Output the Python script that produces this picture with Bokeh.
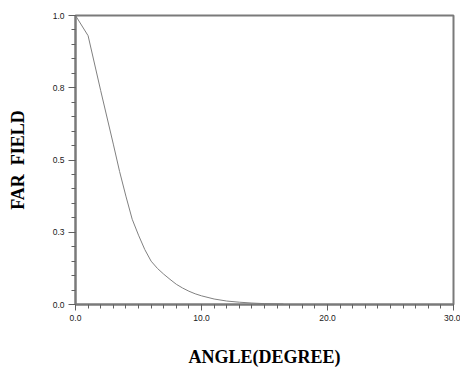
from bokeh.plotting import figure
from bokeh.models import Range1d, FixedTicker
from bokeh.embed import file_html
from bokeh.resources import INLINE

# data
angle = [0, 1, 2, 3, 3.5, 4, 4.5, 5, 5.5, 6, 6.5, 7, 7.5, 8, 8.5, 9, 9.5, 10,
         11, 12, 13, 14, 15, 16, 16.5]
far_field = [1.0, 0.93, 0.74, 0.555, 0.46, 0.375, 0.295, 0.24, 0.19, 0.15, 0.125,
             0.105, 0.087, 0.07, 0.057, 0.046, 0.037, 0.03,
             0.019, 0.012, 0.008, 0.005, 0.003, 0.002, 0.0015]

x_ticks = [0, 10, 20, 30]
x_tick_labels = ["0.0", "10.0", "20.0", "30.0"]
y_ticks = [0, 0.25, 0.5, 0.75, 1.0]
y_tick_labels = ["0.0", "0.3", "0.5", "0.8", "1.0"]
x_minor = list(range(0, 31))
y_minor = [i * 0.05 for i in range(0, 21)]

x_title = "ANGLE(DEGREE)"
y_title = "FAR\u00a0\u00a0FIELD"

p = figure(width=460, height=369, output_backend="svg", toolbar_location=None,
           x_range=Range1d(0, 30), y_range=Range1d(0, 1),
           min_border_left=75, min_border_right=7, min_border_top=15,
           min_border_bottom=65)
p.background_fill_color = "white"
p.border_fill_color = "white"
p.grid.visible = False
p.outline_line_color = "#7a7a7a"
p.outline_line_width = 2

p.line(angle, far_field, line_color="#808080", line_width=1)

p.xaxis.ticker = FixedTicker(ticks=x_ticks, minor_ticks=x_minor)
p.yaxis.ticker = FixedTicker(ticks=y_ticks, minor_ticks=y_minor)
p.xaxis.major_label_overrides = dict(zip(x_ticks, x_tick_labels))
p.yaxis.major_label_overrides = dict(zip(y_ticks, y_tick_labels))

for ax in (p.xaxis, p.yaxis):
    ax.axis_line_color = "#7a7a7a"
    ax.axis_line_width = 2
    ax.major_tick_line_color = "#606060"
    ax.minor_tick_line_color = "#606060"
    ax.major_tick_in = 0
    ax.minor_tick_in = 0
    ax.major_label_text_font = "Liberation Sans"
    ax.major_label_text_font_size = "8.5px"
    ax.major_label_text_color = "#202020"
    ax.axis_label_text_font = "Liberation Serif"
    ax.axis_label_text_font_style = "bold"
    ax.axis_label_text_font_size = "18px"
    ax.axis_label_text_color = "black"

p.xaxis.major_tick_out = 6
p.xaxis.minor_tick_out = 4
p.yaxis.major_tick_out = 7
p.yaxis.minor_tick_out = 4
p.xaxis.major_label_standoff = 4
p.yaxis.major_label_standoff = 4

p.xaxis.axis_label = x_title
p.yaxis.axis_label = y_title
p.xaxis.axis_label_standoff = 23
p.yaxis.axis_label_standoff = 22

open("out.html", "w").write(file_html(p, INLINE))
